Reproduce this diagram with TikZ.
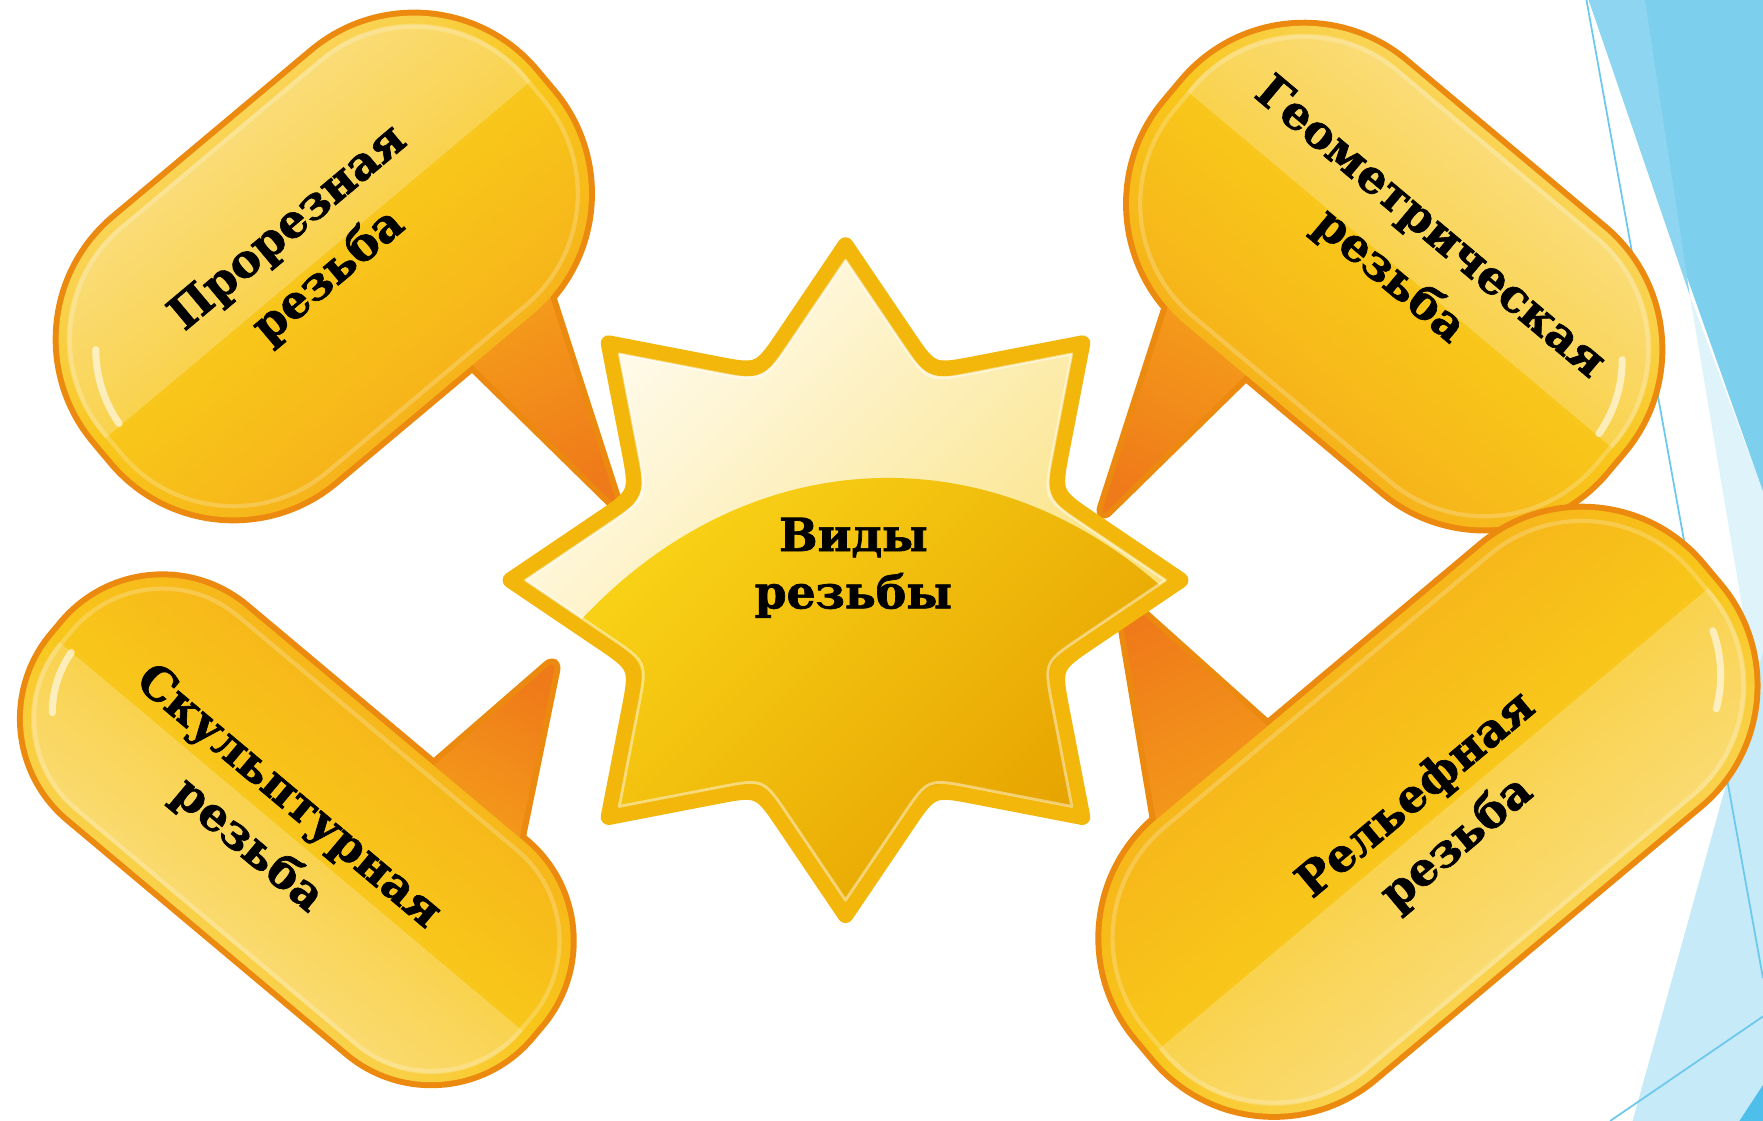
\documentclass[tikz,border=0pt]{standalone}
\usepackage{fontspec}
\setmainfont{DejaVu Serif}[BoldFeatures={FakeBold=1.5}]
\usetikzlibrary{calc}
\definecolor{bubOut}{HTML}{EC8A10}
\definecolor{bubLight}{HTML}{FBE08A}
\definecolor{bubMid}{HTML}{F8C61A}
\definecolor{bubDark}{HTML}{F4A41B}
\definecolor{tailBase}{HTML}{F5A11B}
\definecolor{tailTip}{HTML}{EF7A19}
\definecolor{starRim}{HTML}{F2B70A}
\definecolor{starWhite}{HTML}{FFFBEE}
\definecolor{starPale}{HTML}{F9DC66}
\definecolor{starGoldA}{HTML}{FFE21E}
\definecolor{starGoldB}{HTML}{E6A200}
\definecolor{bluePale}{HTML}{DFF3FB}
\definecolor{blueLight}{HTML}{C6EAF8}
\definecolor{blueBand}{HTML}{8DD5F0}
\definecolor{blueMid}{HTML}{7DCFEE}
\definecolor{blueDark}{HTML}{4EBFEA}
\definecolor{blueLine}{HTML}{6CC8EC}
\tikzset{
  bubline/.style={draw=bubOut, line width=3.4pt, line join=round},
  lbl/.style={font=\fontsize{13}{18}\selectfont\bfseries, align=center, text=black, inner sep=0pt},
  rim/.style={draw=white, opacity=0.22, line width=1.2pt},
  gloss/.style={fill=white, opacity=0.22},
  shine/.style={draw=white, opacity=0.6, line width=2pt, line cap=round},
  tailshape/.style={rounded corners=0.12cm},
}
\def\starpath{($(0:298)!0.7!(22.5:200)$) \foreach \k [evaluate=\k as \b using \k*45+22.5, evaluate=\k as \c using \k*45+45, evaluate=\k as \d using \k*45+67.5] in {0,...,7} { .. controls (\b:200) .. ($(\c:298)!0.7!(\b:200)$) -- (\c:298) -- ($(\c:298)!0.7!(\d:200)$) } -- cycle}
\begin{document}
\begin{tikzpicture}[x=0.011244cm,y=-0.011244cm]
\useasboundingbox (0,0) rectangle (1568,997);
\fill[white] (0,0) rectangle (1568,997);
% ---- blue decoration at the right edge
\fill[bluePale] (1503,263) -- (1568,437) -- (1568,650) -- cycle;
\fill[blueLight] (1568,580) -- (1568,997) -- (1452,997) -- cycle;
\fill[blueMid] (1413,0) -- (1568,0) -- (1568,437) -- cycle;
\fill[blueBand] (1413,0) -- (1463,0) -- (1503,263) -- cycle;
\fill[blueDark] (1547,997) -- (1568,965) -- (1568,997) -- cycle;
\draw[blueLine, line width=0.5pt] (1411,0) -- (1568,870);
\draw[blueLine, line width=0.5pt] (1432,997) -- (1568,904);
% ---- bubble A (top left)
\draw[bubline, tailshape] (395,300) -- (550,452) -- (480,235) -- cycle;
\begin{scope}[shift={(288,237)},rotate=40]
  \draw[bubline, rounded corners=1.574cm] (-255,-152) rectangle (255,152);
\end{scope}
\shade[top color=tailBase, bottom color=tailTip, shading angle=28, tailshape] (395,300) -- (550,452) -- (480,235) -- cycle;
\begin{scope}[shift={(288,237)},rotate=40]
  \shade[top color=bubLight, bottom color=bubDark, middle color=bubMid, shading angle=40, rounded corners=1.574cm] (-255,-152) rectangle (255,152);
  \begin{scope}
    \clip (-300,-200) rectangle (300,-8);
    \fill[gloss, rounded corners=1.46cm] (-247,-144) rectangle (247,144);
  \end{scope}
  \draw[rim, rounded corners=1.46cm] (-245,-142) rectangle (245,142);
  \draw[shine] (-115,0) ++(140:1.29cm) arc[start angle=140, end angle=175, radius=1.29cm];
\end{scope}
\node[lbl, rotate=40] (tA) at (275,225) {Прорезная\\резьба};
% ---- bubble B (top right)
\draw[bubline, tailshape] (1133,309) -- (978,461) -- (1048,244) -- cycle;
\begin{scope}[shift={(1240,246)},rotate=-40]
  \draw[bubline, rounded corners=1.574cm] (-255,-152) rectangle (255,152);
\end{scope}
\shade[top color=tailBase, bottom color=tailTip, shading angle=-28, tailshape] (1133,309) -- (978,461) -- (1048,244) -- cycle;
\begin{scope}[shift={(1240,246)},rotate=-40]
  \shade[top color=bubLight, bottom color=bubDark, middle color=bubMid, shading angle=-40, rounded corners=1.574cm] (-255,-152) rectangle (255,152);
  \begin{scope}
    \clip (-300,-200) rectangle (300,-8);
    \fill[gloss, rounded corners=1.46cm] (-247,-144) rectangle (247,144);
  \end{scope}
  \draw[rim, rounded corners=1.46cm] (-245,-142) rectangle (245,142);
  \draw[shine] (115,0) ++(5:1.29cm) arc[start angle=5, end angle=40, radius=1.29cm];
\end{scope}
\node[lbl, rotate=-40] (tB) at (1253,225) {Геометрическая\\резьба};
% ---- bubble C (bottom left)
\draw[bubline, tailshape] (357,706) -- (495,586) -- (458,766) -- cycle;
\begin{scope}[shift={(264,738)},rotate=-40]
  \draw[bubline, rounded corners=1.293cm] (-277,-122) rectangle (277,122);
\end{scope}
\shade[top color=tailBase, bottom color=tailTip, shading angle=150, tailshape] (357,706) -- (495,586) -- (458,766) -- cycle;
\begin{scope}[shift={(264,738)},rotate=-40]
  \shade[top color=bubDark, bottom color=bubLight, middle color=bubMid, shading angle=-40, rounded corners=1.293cm] (-277,-122) rectangle (277,122);
  \begin{scope}
    \clip (-350,8) rectangle (350,200);
    \fill[gloss, rounded corners=1.18cm] (-269,-114) rectangle (269,114);
  \end{scope}
  \draw[rim, rounded corners=1.18cm] (-267,-112) rectangle (267,112);
  \draw[shine] (-162,0) ++(185:1.05cm) arc[start angle=185, end angle=220, radius=1.05cm];
\end{scope}
\node[lbl, rotate=-40] (tC) at (238,731) {Скульптурная\\резьба};
% ---- bubble D (bottom right)
\draw[bubline, tailshape] (1035,771) -- (994,526) -- (1160,675) -- cycle;
\begin{scope}[shift={(1270,722)},rotate=40]
  \draw[bubline, rounded corners=1.552cm] (-327,-150) rectangle (327,150);
\end{scope}
\shade[top color=tailBase, bottom color=tailTip, shading angle=206, tailshape] (1035,771) -- (994,526) -- (1160,675) -- cycle;
\begin{scope}[shift={(1270,722)},rotate=40]
  \shade[top color=bubDark, bottom color=bubLight, middle color=bubMid, shading angle=40, rounded corners=1.552cm] (-327,-150) rectangle (327,150);
  \begin{scope}
    \clip (-400,8) rectangle (400,250);
    \fill[gloss, rounded corners=1.44cm] (-319,-142) rectangle (319,142);
  \end{scope}
  \draw[rim, rounded corners=1.44cm] (-317,-140) rectangle (317,140);
  \draw[shine] (189,0) ++(-55:1.3cm) arc[start angle=-55, end angle=-20, radius=1.3cm];
\end{scope}
\node[lbl, rotate=40] (tD) at (1278,729) {Рельефная\\резьба};
% ---- star
\begin{scope}[shift={(752,516)}]
  \shade[top color=starWhite, bottom color=starPale, shading angle=45] \starpath;
  \begin{scope}
    \clip \starpath;
    \clip (38,434) ellipse [x radius=4.722cm, y radius=5.903cm];
    \shade[top color=starGoldA, bottom color=starGoldB, shading angle=45] (-300,-300) rectangle (300,300);
  \end{scope}
  \draw[starRim, line width=4.5pt, line join=round] \starpath;
  \begin{scope}[scale=0.955]
    \draw[white, opacity=0.45, line width=0.8pt, line join=round] \starpath;
  \end{scope}
\end{scope}
\node[lbl, font=\fontsize{13}{16.3}\selectfont\bfseries] (tS) at (759,505) {Виды\\резьбы};
\end{tikzpicture}
\end{document}
